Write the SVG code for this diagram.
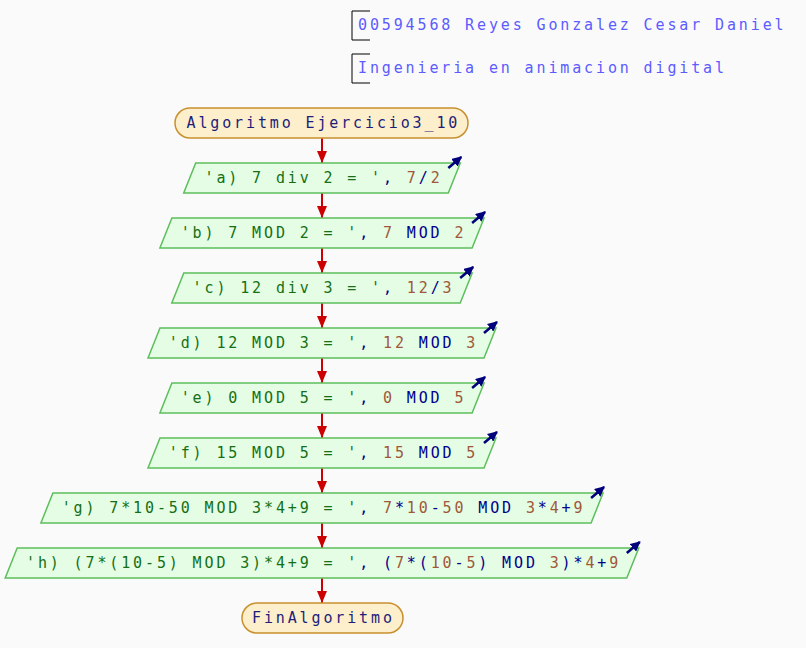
<svg xmlns="http://www.w3.org/2000/svg" width="806" height="648" viewBox="0 0 806 648">
<defs>
<style>
text{font-family:"DejaVu Sans Mono","Liberation Mono",monospace;font-size:15px;letter-spacing:2.87px;white-space:pre}
.hdr{fill:#5c5cff}
.term rect{fill:#fdefcb;stroke:#c8902e;stroke-width:1.5}
.term text{fill:#1e1e7a}
.io polygon{fill:#e4fde4;stroke:#5cbf5c;stroke-width:1.5}
.s{fill:#157015}
.o{fill:#00008b}
.n{fill:#a0583a}
.icon{stroke:#00007a;stroke-width:2.5;fill:none;marker-end:url(#oh)}
.con line{stroke:#cc0000;stroke-width:2;marker-end:url(#ah)}
.br{fill:none;stroke:#000;stroke-width:1}
</style>
<marker id="ah" markerUnits="userSpaceOnUse" markerWidth="12" markerHeight="10" viewBox="0 0 12 10" refX="12" refY="5" orient="auto">
<polygon points="0,0 12,5 0,10" fill="#cc0000"/>
</marker>
<marker id="oh" markerUnits="userSpaceOnUse" markerWidth="10" markerHeight="10" viewBox="0 0 10 10" refX="9" refY="5" orient="auto">
<polygon points="0,0 10,5 0,10" fill="#00007a"/>
</marker>
</defs>
<rect width="806" height="648" fill="#fafafa"/>
<g id="header">
<path class="br" d="M370 11H352V40H370"/>
<text class="hdr" x="358" y="30">00594568 Reyes Gonzalez Cesar Daniel</text>
<path class="br" d="M370 54H352V83H370"/>
<text class="hdr" x="358" y="73">Ingenieria en animacion digital</text>
</g>
<g id="connectors" class="con">
<line x1="322" y1="138" x2="322" y2="163"/>
<line x1="322" y1="193" x2="322" y2="218"/>
<line x1="322" y1="248" x2="322" y2="273"/>
<line x1="322" y1="303" x2="322" y2="328"/>
<line x1="322" y1="358" x2="322" y2="383"/>
<line x1="322" y1="413" x2="322" y2="438"/>
<line x1="322" y1="468" x2="322" y2="493"/>
<line x1="322" y1="523" x2="322" y2="548"/>
<line x1="322" y1="578" x2="322" y2="603"/>
</g>
<g id="start" class="term">
<rect x="175" y="108" width="293" height="30" rx="15"/>
<text x="186.5" y="128">Algoritmo Ejercicio3_10</text>
</g>
<g id="out_a" class="io">
<polygon points="195.7,163 460.3,163 448.3,193 183.7,193"/>
<text x="204.5" y="183"><tspan class="s">'a) 7 div 2 = '</tspan><tspan class="o">, </tspan><tspan class="n">7</tspan><tspan class="o">/</tspan><tspan class="n">2</tspan></text>
<path class="icon" d="M448.3 168L461.3 157"/>
</g>
<g id="out_b" class="io">
<polygon points="171.9,218 484.1,218 472.1,248 159.9,248"/>
<text x="180.7" y="238"><tspan class="s">'b) 7 MOD 2 = '</tspan><tspan class="o">, </tspan><tspan class="n">7</tspan><tspan class="o"> MOD </tspan><tspan class="n">2</tspan></text>
<path class="icon" d="M472.1 223L485.1 212"/>
</g>
<g id="out_c" class="io">
<polygon points="183.8,273 472.2,273 460.2,303 171.8,303"/>
<text x="192.6" y="293"><tspan class="s">'c) 12 div 3 = '</tspan><tspan class="o">, </tspan><tspan class="n">12</tspan><tspan class="o">/</tspan><tspan class="n">3</tspan></text>
<path class="icon" d="M460.2 278L473.2 267"/>
</g>
<g id="out_d" class="io">
<polygon points="160,328 496,328 484,358 148,358"/>
<text x="168.8" y="348"><tspan class="s">'d) 12 MOD 3 = '</tspan><tspan class="o">, </tspan><tspan class="n">12</tspan><tspan class="o"> MOD </tspan><tspan class="n">3</tspan></text>
<path class="icon" d="M484 333L497 322"/>
</g>
<g id="out_e" class="io">
<polygon points="171.9,383 484.1,383 472.1,413 159.9,413"/>
<text x="180.7" y="403"><tspan class="s">'e) 0 MOD 5 = '</tspan><tspan class="o">, </tspan><tspan class="n">0</tspan><tspan class="o"> MOD </tspan><tspan class="n">5</tspan></text>
<path class="icon" d="M472.1 388L485.1 377"/>
</g>
<g id="out_f" class="io">
<polygon points="160,438 496,438 484,468 148,468"/>
<text x="168.8" y="458"><tspan class="s">'f) 15 MOD 5 = '</tspan><tspan class="o">, </tspan><tspan class="n">15</tspan><tspan class="o"> MOD </tspan><tspan class="n">5</tspan></text>
<path class="icon" d="M484 443L497 432"/>
</g>
<g id="out_g" class="io">
<polygon points="52.9,493 603.1,493 591.1,523 40.9,523"/>
<text x="61.7" y="513"><tspan class="s">'g) 7*10-50 MOD 3*4+9 = '</tspan><tspan class="o">, </tspan><tspan class="n">7</tspan><tspan class="o">*</tspan><tspan class="n">10</tspan><tspan class="o">-</tspan><tspan class="n">50</tspan><tspan class="o"> MOD </tspan><tspan class="n">3</tspan><tspan class="o">*</tspan><tspan class="n">4</tspan><tspan class="o">+</tspan><tspan class="n">9</tspan></text>
<path class="icon" d="M591.1 498L604.1 487"/>
</g>
<g id="out_h" class="io">
<polygon points="17.2,548 638.8,548 626.8,578 5.2,578"/>
<text x="26" y="568"><tspan class="s">'h) (7*(10-5) MOD 3)*4+9 = '</tspan><tspan class="o">, (</tspan><tspan class="n">7</tspan><tspan class="o">*(</tspan><tspan class="n">10</tspan><tspan class="o">-</tspan><tspan class="n">5</tspan><tspan class="o">) MOD </tspan><tspan class="n">3</tspan><tspan class="o">)*</tspan><tspan class="n">4</tspan><tspan class="o">+</tspan><tspan class="n">9</tspan></text>
<path class="icon" d="M626.8 553L639.8 542"/>
</g>
<g id="end" class="term">
<rect x="242" y="603" width="161" height="30" rx="15"/>
<text x="252" y="623">FinAlgoritmo</text>
</g>
</svg>
